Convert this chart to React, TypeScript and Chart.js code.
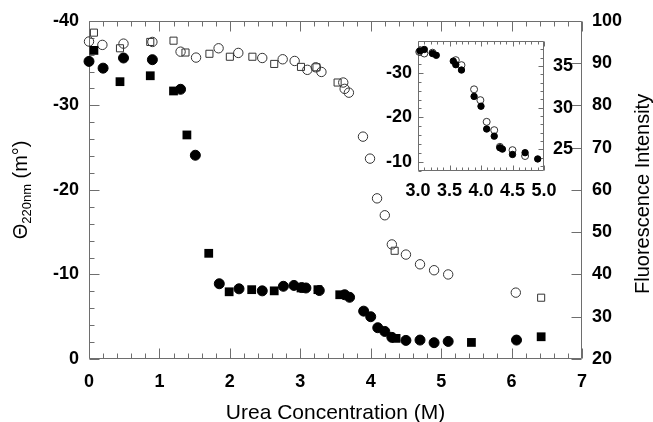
import React, { useEffect, useRef } from 'react';
import { Chart, registerables } from 'chart.js';

Chart.register(...registerables);

const FONT = '"Liberation Sans", Arial, Helvetica, sans-serif';

// ---- Main chart data: CD signal (left axis, mdeg) ----
const cdCircleX = [0.0, 0.2, 0.49, 0.9, 1.3, 1.51, 1.85, 2.13, 2.46, 2.76, 2.91, 3.02, 3.08, 3.27, 3.63, 3.7, 3.9, 4.0, 4.1, 4.2, 4.3, 4.5, 4.7, 4.9, 5.1, 6.07];
const cdCircleY = [-35.2, -34.4, -35.6, -35.4, -31.9, -24.1, -8.9, -8.3, -8.06, -8.6, -8.7, -8.45, -8.4, -8.1, -7.6, -7.3, -5.66, -5.0, -3.7, -3.26, -2.56, -2.2, -2.24, -1.93, -2.08, -2.24];

const cdSquareX = [0.07, 0.44, 0.87, 1.2, 1.39, 1.7, 1.99, 2.31, 2.63, 3.01, 3.25, 3.56, 4.36, 5.43, 6.42];
const cdSquareY = [-36.5, -32.8, -33.5, -31.7, -26.5, -12.5, -7.95, -8.2, -8.06, -8.4, -8.2, -7.6, -2.44, -1.96, -2.63];

// ---- Main chart data: fluorescence (right axis) ----
const flCircleX = [0.0, 0.19, 0.49, 0.9, 1.3, 1.52, 1.84, 2.12, 2.46, 2.75, 2.92, 3.1, 3.22, 3.3, 3.61, 3.63, 3.69, 3.89, 3.99, 4.09, 4.2, 4.3, 4.5, 4.7, 4.9, 5.1, 6.06];
const flCircleY = [95.1, 94.3, 94.6, 95.0, 92.7, 91.3, 93.5, 92.4, 91.2, 90.9, 90.5, 88.4, 89.0, 87.9, 85.4, 83.9, 83.0, 72.6, 67.4, 58.0, 54.0, 47.1, 44.7, 42.4, 41.0, 40.0, 35.7];

const flSquareX = [0.07, 0.44, 0.87, 1.2, 1.37, 1.71, 2.0, 2.32, 2.63, 3.01, 3.23, 3.53, 4.34, 6.42];
const flSquareY = [97.2, 93.5, 95.0, 95.3, 92.5, 92.2, 91.5, 91.5, 89.8, 89.1, 89.0, 85.4, 45.6, 34.5];

// ---- Inset data ----
const insetCdX = [3.03, 3.1, 3.23, 3.29, 3.56, 3.6, 3.69, 3.89, 4.0, 4.09, 4.21, 4.3, 4.34, 4.5, 4.7, 4.9];
const insetCdY = [-34.9, -35.2, -34.3, -33.9, -32.6, -31.8, -30.6, -24.7, -22.5, -17.4, -15.8, -13.2, -12.9, -11.7, -12.1, -10.7];

const insetFlX = [3.02, 3.1, 3.23, 3.6, 3.69, 3.89, 3.99, 4.09, 4.21, 4.3, 4.5, 4.7];
const insetFlY = [36.7, 36.5, 36.6, 35.7, 35.1, 32.2, 30.9, 28.3, 27.3, 25.3, 24.9, 24.2];

// ---- Tick labels ----
const insetLeftTicks = [-30, -20, -10];
const insetRightTicks = [25, 30, 35];

const pts = (xs: number[], ys: number[]) => xs.map((x, i) => ({ x, y: ys[i] }));

type Side = 'top' | 'bottom' | 'left' | 'right';

function drawTicks(ctx: CanvasRenderingContext2D, scale: any, area: any, side: Side, step: number, major: number, majorLen: number, minorLen: number) {
  const lo = Math.min(scale.min, scale.max);
  const hi = Math.max(scale.min, scale.max);
  const i0 = Math.ceil(lo / step - 1e-9);
  const i1 = Math.floor(hi / step + 1e-9);
  for (let i = i0; i <= i1; i++) {
    const v = i * step;
    const isMajor = Math.abs(v / major - Math.round(v / major)) < 1e-6;
    const len = isMajor ? majorLen : minorLen;
    const p = Math.round(scale.getPixelForValue(v)) + 0.5;
    const L = Math.round(area.left) + 0.5;
    const R = Math.round(area.right) - 0.5;
    const T = Math.round(area.top) + 0.5;
    const B = Math.round(area.bottom) - 0.5;
    if (side === 'bottom') { ctx.moveTo(p, B); ctx.lineTo(p, B - len); }
    if (side === 'top') { ctx.moveTo(p, T); ctx.lineTo(p, T + len); }
    if (side === 'left') { ctx.moveTo(L, p); ctx.lineTo(L + len, p); }
    if (side === 'right') { ctx.moveTo(R, p); ctx.lineTo(R - len, p); }
  }
}

const framePlugin = {
  id: 'frameTicks',
  beforeDraw(chart: any, _args: any, opts: any) {
    if (!opts || !opts.fill) return;
    const { ctx, chartArea: a } = chart;
    ctx.save();
    ctx.fillStyle = opts.fill;
    ctx.fillRect(a.left, a.top, a.right - a.left, a.bottom - a.top);
    ctx.restore();
  },
  beforeDatasetsDraw(chart: any, _args: any, opts: any) {
    if (!opts || !opts.color) return;
    const { ctx, chartArea: a, scales } = chart;
    ctx.save();
    ctx.strokeStyle = opts.color;
    ctx.lineWidth = 1;
    ctx.beginPath();
    const L = Math.round(a.left) + 0.5;
    const R = Math.round(a.right) - 0.5;
    const T = Math.round(a.top) + 0.5;
    const B = Math.round(a.bottom) - 0.5;
    ctx.rect(L, T, R - L, B - T);
    drawTicks(ctx, scales.x, a, 'bottom', opts.xStep, opts.xMajor, opts.majorLen, opts.minorLen);
    drawTicks(ctx, scales.x, a, 'top', opts.xStep, opts.xMajor, opts.majorLen, opts.minorLen);
    drawTicks(ctx, scales.y, a, 'left', opts.yStep, opts.yMajor, opts.majorLen, opts.minorLen);
    drawTicks(ctx, scales.y2, a, 'right', opts.rStep, opts.rMajor, opts.majorLen, opts.minorLen);
    ctx.stroke();
    ctx.restore();
  },
};

const titlesPlugin = {
  id: 'axisTitles',
  afterDraw(chart: any) {
    const { ctx, chartArea: a } = chart;
    const big = `20px ${FONT}`;
    const small = `13px ${FONT}`;
    ctx.save();
    ctx.fillStyle = '#000';
    ctx.textBaseline = 'alphabetic';

    // bottom title
    ctx.font = `21px ${FONT}`;
    ctx.textAlign = 'center';
    ctx.fillText('Urea Concentration (M)', (a.left + a.right) / 2, 419);

    // left title with subscript
    ctx.save();
    ctx.translate(27, (a.top + a.bottom) / 2);
    ctx.rotate(-Math.PI / 2);
    ctx.textAlign = 'left';
    ctx.font = big;
    const w1 = ctx.measureText('Θ').width;
    const w3 = ctx.measureText(' (m°)').width;
    ctx.font = small;
    const w2 = ctx.measureText('220nm').width;
    const x0 = -(w1 + w2 + w3) / 2;
    ctx.font = big;
    ctx.fillText('Θ', x0, 0);
    ctx.font = small;
    ctx.fillText('220nm', x0 + w1, 4);
    ctx.font = big;
    ctx.fillText(' (m°)', x0 + w1 + w2, 0);
    ctx.restore();

    // right title
    ctx.save();
    ctx.translate(649, (a.top + a.bottom) / 2 + 4);
    ctx.rotate(-Math.PI / 2);
    ctx.textAlign = 'center';
    ctx.font = big;
    ctx.fillText('Fluorescence Intensity', 0, 0);
    ctx.restore();

    ctx.restore();
  },
};

const tickFont = { family: FONT, size: 18, weight: 'bold' };

export default function App() {
  const mainRef = useRef<HTMLCanvasElement>(null);
  const insetRef = useRef<HTMLCanvasElement>(null);

  useEffect(() => {
    document.body.style.margin = '0';
    const main = new Chart(mainRef.current!, {
      type: 'scatter',
      data: {
        datasets: [
          { data: pts(cdCircleX, cdCircleY), yAxisID: 'y', pointStyle: 'circle', pointRadius: 5, backgroundColor: '#000', borderColor: '#000', borderWidth: 1 },
          { data: pts(cdSquareX, cdSquareY), yAxisID: 'y', pointStyle: 'rect', pointRadius: 6.2, backgroundColor: '#000', borderColor: '#000', borderWidth: 0 },
          { data: pts(flCircleX, flCircleY), yAxisID: 'y2', pointStyle: 'circle', pointRadius: 4.7, backgroundColor: 'rgba(0,0,0,0)', borderColor: '#333', borderWidth: 1 },
          { data: pts(flSquareX, flSquareY), yAxisID: 'y2', pointStyle: 'rect', pointRadius: 5, backgroundColor: 'rgba(0,0,0,0)', borderColor: '#333', borderWidth: 1 },
        ],
      },
      options: {
        animation: false,
        responsive: false,
        devicePixelRatio: 1,
        events: [],
        clip: false as any,
        layout: { padding: { top: 20, left: 0, right: 0, bottom: 0 } },
        plugins: {
          legend: { display: false },
          tooltip: { enabled: false },
          frameTicks: { color: '#6e6e6e', xStep: 0.2, xMajor: 1, yStep: 2, yMajor: 10, rStep: 10, rMajor: 10, majorLen: 10, minorLen: 5 },
        } as any,
        scales: {
          x: {
            type: 'linear', min: 0, max: 7,
            grid: { display: false, drawTicks: false }, border: { display: false },
            ticks: { stepSize: 1, padding: 12, color: '#000', font: tickFont, maxRotation: 0, autoSkip: false },
            afterFit: (s: any) => { s.height = 63; },
          },
          y: {
            type: 'linear', position: 'left', min: -40, max: 0, reverse: true,
            grid: { display: false, drawTicks: false }, border: { display: false },
            ticks: { stepSize: 10, padding: 10, color: '#000', font: tickFont },
            afterFit: (s: any) => { s.width = 89; },
          },
          y2: {
            type: 'linear', position: 'right', min: 20, max: 100,
            grid: { display: false, drawTicks: false }, border: { display: false },
            ticks: { stepSize: 10, padding: 10, color: '#000', font: tickFont },
            afterFit: (s: any) => { s.width = 71; },
          },
        },
      } as any,
      plugins: [framePlugin, titlesPlugin],
    });

    const inset = new Chart(insetRef.current!, {
      type: 'scatter',
      data: {
        datasets: [
          { data: pts(insetCdX, insetCdY), yAxisID: 'y', pointStyle: 'circle', pointRadius: 3.2, backgroundColor: '#000', borderColor: '#000', borderWidth: 1 },
          { data: pts(insetFlX, insetFlY), yAxisID: 'y2', pointStyle: 'circle', pointRadius: 3.5, backgroundColor: 'rgba(0,0,0,0)', borderColor: '#333', borderWidth: 1 },
        ],
      },
      options: {
        animation: false,
        responsive: false,
        devicePixelRatio: 1,
        events: [],
        clip: false as any,
        layout: { padding: { top: 41, left: 380, right: 69, bottom: 226 } },
        plugins: {
          legend: { display: false },
          tooltip: { enabled: false },
          frameTicks: { fill: '#fff', color: '#6e6e6e', xStep: 0.1, xMajor: 0.5, yStep: 2, yMajor: 10, rStep: 1, rMajor: 5, majorLen: 5, minorLen: 3 },
        } as any,
        scales: {
          x: {
            type: 'linear', min: 3, max: 5,
            grid: { display: false, drawTicks: false }, border: { display: false },
            ticks: { stepSize: 0.5, padding: 9, color: '#000', font: tickFont, maxRotation: 0, autoSkip: false, callback: (v: any) => Number(v).toFixed(1) },
            afterFit: (s: any) => { s.height = 25; },
          },
          y: {
            type: 'linear', position: 'left', min: -37.1, max: -8, reverse: true,
            grid: { display: false, drawTicks: false }, border: { display: false },
            ticks: { padding: 6, color: '#000', font: tickFont },
            afterBuildTicks: (s: any) => { s.ticks = insetLeftTicks.map((value) => ({ value })); },
            afterFit: (s: any) => { s.width = 38; },
          },
          y2: {
            type: 'linear', position: 'right', min: 22.4, max: 38,
            grid: { display: false, drawTicks: false }, border: { display: false },
            ticks: { padding: 9, color: '#000', font: tickFont },
            afterBuildTicks: (s: any) => { s.ticks = insetRightTicks.map((value) => ({ value })); },
            afterFit: (s: any) => { s.width = 40; },
          },
        },
      } as any,
      plugins: [framePlugin],
    });

    return () => {
      main.destroy();
      inset.destroy();
    };
  }, []);

  return (
    <div style={{ position: 'relative', width: 653, height: 422, background: '#fff' }}>
      <canvas ref={mainRef} width={653} height={422} style={{ position: 'absolute', left: 0, top: 0 }} />
      <canvas ref={insetRef} width={653} height={422} style={{ position: 'absolute', left: 0, top: 0 }} />
    </div>
  );
}
